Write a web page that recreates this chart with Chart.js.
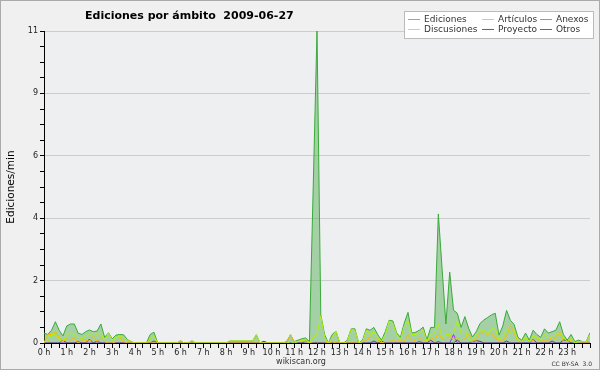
<!DOCTYPE html>
<html>
<head>
<meta charset="utf-8">
<script src="https://cdn.jsdelivr.net/npm/chart.js@4/dist/chart.umd.min.js"></script>
<style>
html, body { margin: 0; padding: 0; background: #f0f0f0; }
canvas { display: block; }
</style>
</head>
<body>
<canvas id="chart" width="600" height="370"></canvas>
<script>
// Ediciones/min cada 10 minutos (una fila = una hora), último valor = 24 h
const ediciones = [
    0.35, 0.3, 0.45, 0.75, 0.45, 0.25,
    0.6, 0.67, 0.67, 0.35, 0.3, 0.4,
    0.46, 0.4, 0.42, 0.67, 0.2, 0.36,
    0.15, 0.28, 0.3, 0.29, 0.12, 0.05,
    0, 0, 0, 0, 0.3, 0.38,
    0, 0, 0, 0, 0, 0,
    0.08, 0, 0, 0.08, 0, 0,
    0, 0, 0, 0, 0, 0,
    0, 0.07, 0.07, 0.07, 0.07, 0.07,
    0.07, 0.07, 0.29, 0, 0.06, 0,
    0, 0, 0, 0, 0.05, 0.29,
    0.05, 0.1, 0.15, 0.18, 0.05, 5.5,
    11, 1.0, 0.3, 0, 0.3, 0.42,
    0, 0, 0.1, 0.5, 0.5, 0,
    0.1, 0.5, 0.45, 0.55, 0.3, 0.1,
    0.4, 0.8, 0.78, 0.36, 0.2, 0.7,
    1.08, 0.35, 0.38, 0.45, 0.56, 0.12,
    0.55, 0.55, 4.55, 2.6, 0.67, 2.5,
    1.16, 1.05, 0.55, 0.93, 0.52, 0.21,
    0.4, 0.69, 0.81, 0.9, 0.99, 1.05,
    0.28, 0.6, 1.15, 0.8, 0.65, 0.2,
    0.1, 0.35, 0.1, 0.45, 0.3, 0.2,
    0.5, 0.35, 0.4, 0.45, 0.75, 0.3,
    0.1, 0.3, 0.05, 0.1, 0.05, 0.05,
    0.36
];
const articulos = [
    0.05, 0.05, 0.3, 0.3, 0.1, 0.05,
    0.3, 0.35, 0.3, 0.2, 0.15, 0.25,
    0.3, 0.35, 0.3, 0.35, 0.1, 0.36,
    0.1, 0.2, 0.25, 0.2, 0.1, 0.05,
    0, 0, 0, 0, 0.15, 0.25,
    0, 0, 0, 0, 0, 0,
    0.08, 0, 0, 0.08, 0, 0,
    0, 0, 0, 0, 0, 0,
    0, 0.07, 0.07, 0.07, 0.07, 0.07,
    0.07, 0.07, 0.29, 0, 0, 0,
    0, 0, 0, 0, 0, 0.05,
    0, 0.05, 0.1, 0.1, 0, 0.2,
    0.3, 0.95, 0.2, 0, 0.2, 0.42,
    0, 0, 0.05, 0.5, 0.45, 0,
    0.05, 0.45, 0.3, 0.4, 0.2, 0.05,
    0.3, 0.78, 0.7, 0.3, 0.1, 0.6,
    0.78, 0.3, 0.3, 0.36, 0.46, 0.05,
    0.3, 0.35, 0.7, 0.2, 0.3, 0.3,
    0.35, 0.78, 0.35, 0.5, 0.1, 0.05,
    0.3, 0.46, 0.46, 0.3, 0.5, 0.5,
    0.1, 0.2, 0.5, 0.35, 0.45, 0.1,
    0.05, 0.2, 0.05, 0.25, 0.2, 0.1,
    0.3, 0.2, 0.2, 0.3, 0.35, 0.2,
    0.05, 0.2, 0, 0.05, 0.05, 0.05,
    0.3
];
const anexos = [];
const discusiones = [
    0, 0.3, 0.3, 0.4, 0.2, 0.05,
    0.15, 0.1, 0.2, 0, 0.1, 0.1,
    0.05, 0.25, 0.05, 0.2, 0.05, 0,
    0, 0.05, 0.17, 0.05, 0, 0,
    0, 0, 0, 0, 0, 0,
    0, 0, 0, 0, 0, 0,
    0, 0, 0, 0, 0, 0,
    0, 0, 0, 0, 0, 0,
    0, 0, 0, 0, 0, 0,
    0, 0, 0, 0, 0, 0,
    0, 0, 0, 0, 0.05, 0.29,
    0.05, 0.05, 0.1, 0.05, 0, 0.05,
    0.05, 0.05, 0.05, 0, 0.05, 0,
    0, 0, 0, 0, 0, 0,
    0.05, 0.1, 0.2, 0.2, 0.1, 0,
    0.05, 0.05, 0.1, 0.05, 0.1, 0.05,
    0.3, 0.05, 0.1, 0.2, 0.1, 0.05,
    0.2, 0.1, 0.35, 0.15, 0.1, 0.25,
    0.1, 0.2, 0.1, 0.15, 0.3, 0.1,
    0.1, 0.35, 0.35, 0.3, 0.35, 0.2,
    0.05, 0.1, 0.25, 0.64, 0.36, 0.05,
    0.05, 0.15, 0.05, 0.1, 0.15, 0.05,
    0.1, 0.1, 0.2, 0.15, 0.4, 0.05,
    0.05, 0.1, 0, 0, 0, 0,
    0
];
const proyecto = [
    0, 0, 0, 0, 0, 0.1,
    0, 0, 0, 0, 0, 0,
    0.14, 0, 0.07, 0, 0, 0,
    0, 0, 0, 0, 0, 0,
    0, 0, 0, 0, 0, 0.07,
    0, 0, 0, 0, 0, 0,
    0, 0, 0, 0, 0, 0,
    0, 0, 0, 0, 0, 0,
    0, 0, 0, 0, 0, 0,
    0, 0, 0, 0, 0.06, 0,
    0, 0, 0, 0, 0, 0,
    0, 0, 0, 0.07, 0, 0,
    0, 0, 0, 0, 0, 0,
    0, 0, 0, 0, 0, 0,
    0, 0, 0, 0.07, 0, 0.07,
    0, 0, 0, 0, 0, 0,
    0, 0, 0, 0, 0, 0,
    0.1, 0, 0.05, 0, 0, 0,
    0, 0.1, 0, 0, 0, 0.06,
    0.08, 0.06, 0, 0, 0, 0,
    0, 0, 0.07, 0, 0, 0,
    0, 0, 0, 0.13, 0, 0,
    0, 0, 0.07, 0, 0, 0.1,
    0.1, 0, 0, 0, 0, 0,
    0
];
const otros = [
    0, 0, 0, 0, 0, 0,
    0, 0, 0, 0.06, 0, 0,
    0, 0, 0, 0, 0, 0,
    0, 0, 0, 0, 0, 0,
    0, 0, 0, 0, 0, 0,
    0, 0, 0, 0, 0, 0,
    0, 0, 0, 0, 0, 0,
    0, 0, 0, 0, 0, 0,
    0, 0, 0, 0, 0, 0,
    0, 0, 0, 0, 0, 0,
    0, 0, 0, 0, 0, 0,
    0, 0, 0, 0, 0, 0,
    0, 0, 0, 0, 0, 0,
    0, 0, 0, 0, 0, 0,
    0, 0, 0, 0, 0, 0,
    0, 0, 0, 0, 0, 0,
    0, 0, 0, 0.06, 0, 0,
    0, 0, 0, 0, 0, 0,
    0.3, 0, 0, 0, 0, 0,
    0, 0, 0, 0, 0, 0,
    0, 0, 0, 0, 0, 0,
    0, 0, 0, 0, 0, 0,
    0, 0, 0, 0, 0, 0,
    0, 0, 0, 0, 0, 0,
    0
];

// etiquetas de los ejes
const hourLabels = ['0 h', '1 h', '2 h', '3 h', '4 h', '5 h', '6 h', '7 h', '8 h', '9 h', '10 h', '11 h',
    '12 h', '13 h', '14 h', '15 h', '16 h', '17 h', '18 h', '19 h', '20 h', '21 h', '22 h', '23 h'];
const yLabels = ['0', '2', '4', '6', '9', '11'];
const STEP_MIN = 10; // minutos entre muestras

const FONT = '"DejaVu Sans", sans-serif';
// colores de la leyenda, en el orden de los datasets
const legendColors = ['#66cc66', '#bbee22', '#ff7733', '#ffcc33', '#666666', '#9933ff'];

// convierte una serie en puntos {x: minutos, y}
function toPoints(values) {
    return values.map((v, i) => ({ x: i * STEP_MIN, y: v }));
}

// fondo, título, pie, marco y leyenda
const decor = {
    id: 'decor',
    beforeDraw(chart) {
        const ctx = chart.ctx;
        ctx.save();
        ctx.fillStyle = '#f0f0f0';
        ctx.fillRect(0, 0, chart.width, chart.height);
        const a = chart.chartArea;
        ctx.fillStyle = '#eeeff1';
        ctx.fillRect(a.left, a.top, a.right - a.left, a.bottom - a.top);
        ctx.restore();
    },
    afterDraw(chart) {
        const ctx = chart.ctx;
        ctx.save();
        ctx.fillStyle = '#000';
        ctx.textBaseline = 'alphabetic';
        ctx.font = 'bold 11px ' + FONT;
        ctx.fillText('Ediciones por ámbito  2009-06-27', 85, 19);

        ctx.fillStyle = '#333';
        ctx.textAlign = 'center';
        ctx.font = '8px ' + FONT;
        ctx.fillText('wikiscan.org', 301, 364);
        ctx.textAlign = 'right';
        ctx.font = '6px ' + FONT;
        ctx.fillText('CC BY-SA  3.0', 592, 366);

        ctx.strokeStyle = '#aaa';
        ctx.lineWidth = 1;
        ctx.strokeRect(0.5, 0.5, chart.width - 1, chart.height - 1);

        // leyenda en 3 columnas
        ctx.fillStyle = '#fff';
        ctx.fillRect(404, 11, 189, 27);
        ctx.strokeStyle = '#bbb';
        ctx.strokeRect(404.5, 11.5, 189, 27);
        const colX = [408, 482, 540];
        const rowY = [19.5, 29.5];
        ctx.font = '9px ' + FONT;
        ctx.textAlign = 'left';
        ctx.textBaseline = 'middle';
        chart.data.datasets.forEach((ds, i) => {
            const x = colX[i % 3];
            const y = rowY[Math.floor(i / 3)];
            ctx.strokeStyle = legendColors[i];
            ctx.beginPath();
            ctx.moveTo(x, y);
            ctx.lineTo(x + 12, y);
            ctx.stroke();
            ctx.fillStyle = '#333';
            ctx.fillText(ds.label, x + 16, y);
        });
        ctx.restore();
    }
};

const ctx = document.getElementById('chart').getContext('2d');
new Chart(ctx, {
    type: 'line',
    data: {
        datasets: [
            {
                label: 'Ediciones',
                data: toPoints(ediciones),
                borderColor: '#3aaa3a',
                backgroundColor: 'rgba(70, 170, 70, 0.45)',
                fill: 'origin',
                order: 1
            },
            { label: 'Artículos', data: toPoints(articulos), borderColor: '#b4ee10' },
            { label: 'Anexos', data: toPoints(anexos), borderColor: '#ff7733' },
            { label: 'Discusiones', data: toPoints(discusiones), borderColor: '#f5c000' },
            { label: 'Proyecto', data: toPoints(proyecto), borderColor: '#555' },
            { label: 'Otros', data: toPoints(otros), borderColor: '#9933ff' }
        ]
    },
    options: {
        responsive: false,
        animation: false,
        layout: { padding: { top: 31, right: 10, left: 0, bottom: 0 } },
        elements: {
            line: { borderWidth: 1, tension: 0, fill: false },
            point: { radius: 0 }
        },
        scales: {
            x: {
                type: 'linear',
                min: 0,
                max: 24 * 60,
                afterFit: s => { s.height = 27; },
                border: { display: true, color: '#000' },
                grid: {
                    drawOnChartArea: false,
                    drawTicks: true,
                    tickLength: 5,
                    tickColor: '#000'
                },
                ticks: {
                    stepSize: 20,
                    autoSkip: false,
                    maxRotation: 0,
                    padding: 0,
                    color: '#222',
                    font: { family: FONT, size: 8 },
                    callback: v => (v % 60 === 0 ? (hourLabels[v / 60] || '') : '')
                }
            },
            y: {
                min: 0,
                max: 11,
                afterFit: s => { s.width = 44; },
                border: { display: true, color: '#000' },
                grid: {
                    color: c => (Math.round(c.tick.value / 0.55) % 4 === 0 ? '#cccccc' : 'rgba(0,0,0,0)'),
                    tickColor: '#000',
                    tickLength: 4
                },
                ticks: {
                    stepSize: 0.55,
                    autoSkip: false,
                    padding: 2,
                    color: '#222',
                    font: { family: FONT, size: 8 },
                    callback: v => {
                        const k = Math.round(v / 0.55);
                        return k % 4 === 0 ? yLabels[k / 4] : '';
                    }
                },
                title: {
                    display: true,
                    text: 'Ediciones/min',
                    color: '#000',
                    font: { family: FONT, size: 10.5 },
                    padding: { top: 5, bottom: 0 }
                }
            }
        },
        plugins: {
            legend: { display: false },
            tooltip: { enabled: false }
        }
    },
    plugins: [decor]
});
</script>
</body>
</html>
